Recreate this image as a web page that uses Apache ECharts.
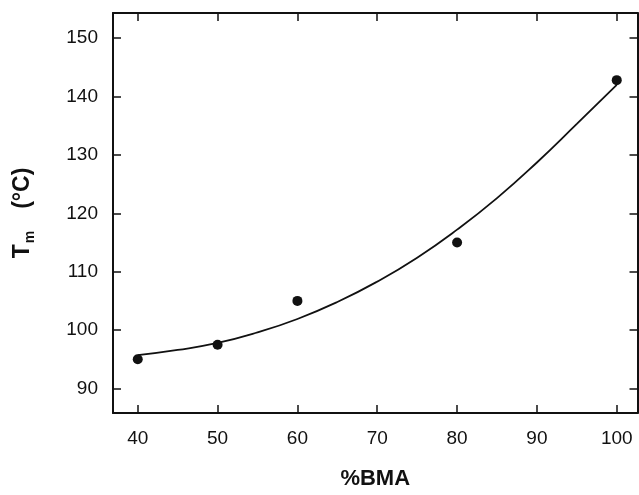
<!DOCTYPE html>
<html>
<head>
<meta charset="utf-8">
<script src="https://cdn.jsdelivr.net/npm/echarts@6/dist/echarts.min.js"></script>
<style>
  html, body { margin: 0; padding: 0; background: #fff; }
  #chart { width: 639px; height: 495px; }
</style>
</head>
<body>
<div id="chart"></div>
<script>
// measured points
var bmaPct = [40, 50, 60, 80, 100];
var tmVals = [95.0, 97.5, 105.0, 115.0, 142.8];

// fitted curve
var fitX = [40, 45, 50, 55, 60, 65, 70, 75, 80, 85, 90, 95, 100];
var fitY = [95.7, 96.6, 97.8, 99.6, 101.9, 104.8, 108.3, 112.4, 117.2, 122.6, 128.7, 135.3, 142.0];

// tick labels
var xTicks = [40, 50, 60, 70, 80, 90, 100];
var yTicks = [90, 100, 110, 120, 130, 140, 150];

var font = "'Liberation Sans', Arial, sans-serif";

var chart = echarts.init(document.getElementById("chart"));

function tick(vals) {
  return { show: true, inside: true, length: 8, customValues: vals, lineStyle: { color: "#111", width: 1.5 } };
}
var lineStyle = { show: true, onZero: false, lineStyle: { color: "#111", width: 2 } };

var option = {
  animation: false,
  backgroundColor: "#fff",
  grid: { left: 113, top: 13, right: 1.5, bottom: 79 },
  xAxis: [
    {
      type: "value",
      min: 36.9,
      max: 102.6,
      position: "bottom",
      axisLine: lineStyle,
      axisTick: tick(xTicks),
      splitLine: { show: false },
      axisLabel: {
        customValues: xTicks,
        color: "#111",
        fontFamily: font,
        fontSize: 19,
        margin: 16
      },
      name: "%BMA",
      nameLocation: "middle",
      nameGap: 55,
      nameTextStyle: { color: "#111", fontFamily: font, fontSize: 22, fontWeight: "bold" }
    },
    {
      type: "value",
      min: 36.9,
      max: 102.6,
      position: "top",
      axisLine: lineStyle,
      axisTick: tick(xTicks),
      axisLabel: { show: false },
      splitLine: { show: false }
    }
  ],
  yAxis: [
    {
      type: "value",
      min: 85.8,
      max: 154.3,
      position: "left",
      axisLine: lineStyle,
      axisTick: tick(yTicks),
      splitLine: { show: false },
      axisLabel: {
        customValues: yTicks,
        color: "#111",
        fontFamily: font,
        fontSize: 19,
        margin: 15
      },
      name: "{t|T}{s|m}{t|(°C)}",
      nameLocation: "middle",
      nameGap: 76,
      nameRotate: 90,
      nameTextStyle: {
        rich: {
          t: { color: "#111", fontFamily: font, fontSize: 23, fontWeight: "bold" },
          s: { color: "#111", fontFamily: font, fontSize: 14, fontWeight: "bold", padding: [14, 22, 0, 1] }
        }
      }
    },
    {
      type: "value",
      min: 85.8,
      max: 154.3,
      position: "right",
      axisLine: lineStyle,
      axisTick: tick(yTicks),
      axisLabel: { show: false },
      splitLine: { show: false }
    }
  ],
  series: [
    {
      type: "line",
      data: fitX.map(function (x, i) { return [x, fitY[i]]; }),
      smooth: true,
      showSymbol: false,
      lineStyle: { color: "#111", width: 1.8 }
    },
    {
      type: "scatter",
      data: bmaPct.map(function (x, i) { return [x, tmVals[i]]; }),
      symbol: "circle",
      symbolSize: 10,
      itemStyle: { color: "#111", opacity: 1 }
    }
  ]
};

chart.setOption(option);
</script>
</body>
</html>
